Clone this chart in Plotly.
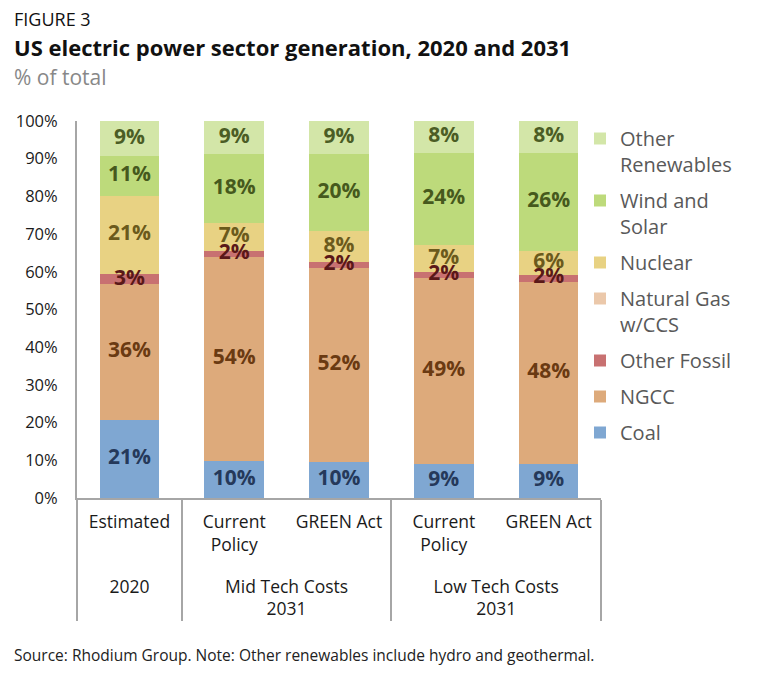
import plotly.graph_objects as go

# ---- data ----
groups = ["2020", "Mid Tech Costs<br>2031", "Mid Tech Costs<br>2031",
          "Low Tech Costs<br>2031", "Low Tech Costs<br>2031"]
scenarios = ["Estimated", "Current<br>Policy<br>&nbsp;", "GREEN Act", "Current<br>Policy<br>&nbsp;", "GREEN Act"]

coal = [20.7, 9.9, 9.6, 9.0, 9.0]
ngcc = [36.0, 54.1, 51.5, 49.3, 48.4]
other_fossil = [2.6, 1.6, 1.6, 1.6, 1.8]
ng_ccs = [0, 0, 0, 0, 0]
nuclear = [20.8, 7.4, 8.1, 7.3, 6.4]
wind_solar = [10.6, 18.2, 20.4, 24.4, 26.0]
other_ren = [9.3, 8.8, 8.8, 8.4, 8.4]

y_ticks = [0, 10, 20, 30, 40, 50, 60, 70, 80, 90, 100]
y_ticklabels = ["%d%%" % v for v in y_ticks]

series = [
    ("Coal", coal, "#7FA7D2", "#25395A"),
    ("NGCC", ngcc, "#DDAA7B", "#6A3A12"),
    ("Other Fossil", other_fossil, "#C87171", "#5A1818"),
    ("Natural Gas<br>w/CCS", ng_ccs, "#EBC8AA", "#6A3A12"),
    ("Nuclear", nuclear, "#E8D283", "#6B5A1C"),
    ("Wind and<br>Solar", wind_solar, "#BDDA7B", "#46591D"),
    ("Other<br>Renewables", other_ren, "#D3E6A8", "#4B5D25"),
]

FONT = "Open Sans"

# page is offset by the 8px body margin
OFF = 8
W, H = 760, 674
L, R, T, B = 77 - OFF, 601 - OFF, 121 - OFF, 498 - OFF


def px_x(x):
    return (x - OFF - L) / (R - L)


def px_y(y):
    return (B - (y - OFF)) / (B - T)


fig = go.Figure()
base = [0.0] * len(groups)
label_traces = []
n = len(series)
for i, (name, vals, color, tcolor) in enumerate(series):
    fig.add_trace(go.Bar(
        name=name,
        x=[groups, scenarios],
        y=vals,
        marker=dict(color=color, line=dict(width=0)),
        legendgroup=str(i),
        legendrank=(n - i) * 10,
        hoverinfo="skip",
    ))
    mids = [b + v / 2 for b, v in zip(base, vals)]
    txt = [("%d%%" % round(v)) if v > 0 else "" for v in vals]
    label_traces.append(go.Scatter(
        x=[groups, scenarios], y=mids, text=txt, mode="text",
        textposition="middle center",
        textfont=dict(family=FONT, size=21, color=tcolor, weight="bold"),
        showlegend=False, hoverinfo="skip", cliponaxis=False,
    ))
    base = [b + v for b, v in zip(base, vals)]

for tr in label_traces:
    fig.add_trace(tr)

fig.update_layout(
    barmode="stack",
    bargap=0.43,
    width=W, height=H,
    margin=dict(l=L, r=W - R, t=T, b=H - B, autoexpand=False),
    plot_bgcolor="white",
    paper_bgcolor="white",
    font=dict(family=FONT, color="#222222"),
    showlegend=True,
    legend=dict(
        traceorder="grouped",
        x=px_x(580), xanchor="left",
        y=px_y(119), yanchor="top",
        font=dict(family=FONT, size=20, color="#595959"),
        tracegroupgap=7,
        valign="top",
        maxheight=600,
        bgcolor="rgba(0,0,0,0)",
    ),
)

fig.update_yaxes(
    range=[0, 100],
    tickvals=y_ticks,
    ticktext=y_ticklabels,
    showgrid=False,
    showline=True, linecolor="#A6A6A6", linewidth=2,
    ticks="", ticklabelstandoff=14,
    tickfont=dict(family=FONT, size=16.5, color="#1a1a1a"),
    zeroline=False,
    fixedrange=True,
)

fig.update_xaxes(
    type="multicategory",
    showline=True, linecolor="#A6A6A6", linewidth=2,
    showdividers=True, dividercolor="#A6A6A6", dividerwidth=2,
    tickfont=dict(family=FONT, size=17.5, color="#1a1a1a"),
    ticks="", ticklabelstandoff=7,
    showgrid=False,
    fixedrange=True,
)

annotations = [
    dict(text="FIGURE 3", x=px_x(12), y=px_y(19), font=dict(size=18, color="#111111")),
    dict(text="<b>US electric power sector generation, 2020 and 2031</b>", x=px_x(12), y=px_y(47),
         font=dict(size=22, color="#111111")),
    dict(text="% of total", x=px_x(12), y=px_y(77), font=dict(size=21, color="#888888")),
    dict(text="Source: Rhodium Group. Note: Other renewables include hydro and geothermal.",
         x=px_x(12), y=px_y(655), font=dict(size=15.5, color="#222222")),
]
for a in annotations:
    a.update(xref="paper", yref="paper", xanchor="left", yanchor="middle", showarrow=False)
    a["font"]["family"] = FONT
fig.update_layout(annotations=annotations)

fig.write_html("out.html")
